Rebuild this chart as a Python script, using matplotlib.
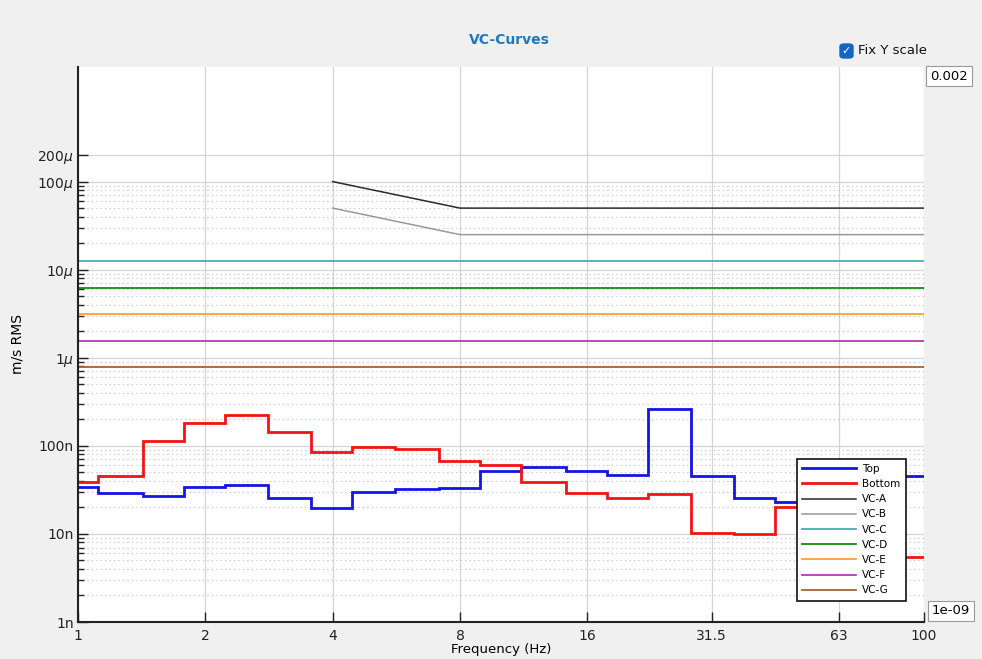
import numpy as np
import matplotlib
matplotlib.use("Agg")
import matplotlib.pyplot as plt
from matplotlib.patches import FancyBboxPatch

# 1/3 octave band centres (Hz)
freqs = [1, 1.25, 1.6, 2, 2.5, 3.15, 4, 5, 6.3, 8, 10, 12.5, 16, 20, 25,
         31.5, 40, 50, 63, 80, 100]

# m/s RMS per band
top = [34.5e-9, 29.5e-9, 27e-9, 34e-9, 35.5e-9, 25.5e-9, 19.8e-9, 30e-9,
       32.5e-9, 33e-9, 52e-9, 57e-9, 51.5e-9, 46.5e-9, 263e-9, 46e-9,
       25.5e-9, 23e-9, 30e-9, 40e-9, 46e-9]
bottom = [39e-9, 45e-9, 114e-9, 180e-9, 225e-9, 142e-9, 85e-9, 98e-9,
          91e-9, 67e-9, 60e-9, 39e-9, 29e-9, 25.7e-9, 28.5e-9, 10.3e-9,
          9.9e-9, 20.4e-9, 14e-9, 8e-9, 5.5e-9]

# VC criteria
vc_ab_freq = [4, 8, 100]
vc_a = [100e-6, 50e-6, 50e-6]
vc_b = [50e-6, 25e-6, 25e-6]
vc_flat_freq = [1, 100]
vc_flat_names = ["VC-C", "VC-D", "VC-E", "VC-F", "VC-G"]
vc_flat_levels = [12.5e-6, 6.25e-6, 3.12e-6, 1.56e-6, 0.78e-6]
vc_flat_colors = ["#3fb0b0", "#108a10", "#f2a23c", "#b03cb8", "#a0643a"]

x_ticks = [1, 2, 4, 8, 16, 31.5, 63, 100]
x_ticklabels = ["1", "2", "4", "8", "16", "31.5", "63", "100"]
y_ticks = [1e-9, 1e-8, 1e-7, 1e-6, 1e-5, 1e-4, 2e-4]
y_ticklabels = ["1n", "10n", "100n", r"1$\mu$", r"10$\mu$", r"100$\mu$", r"200$\mu$"]

fig = plt.figure(figsize=(9.82, 6.59), dpi=100, facecolor="#f0f0f0")
ax = fig.add_axes([78 / 982, 1 - 622 / 659, 846 / 982, 555 / 659])
ax.set_facecolor("white")

edges = np.array(freqs) * 2 ** (-1 / 6)
edges = np.append(edges, freqs[-1] * 2 ** (1 / 6))
ax.stairs(top, edges, color="#1414e6", lw=2, label="Top", baseline=None)
ax.stairs(bottom, edges, color="#f01414", lw=2, label="Bottom", baseline=None)

ax.plot(vc_ab_freq, vc_a, color="#2a2a2a", lw=1.1, label="VC-A")
ax.plot(vc_ab_freq, vc_b, color="#999999", lw=1.1, label="VC-B")
for name, lev, col in zip(vc_flat_names, vc_flat_levels, vc_flat_colors):
    ax.plot(vc_flat_freq, [lev, lev], color=col, lw=1.3, label=name)

ax.set_xscale("log")
ax.set_yscale("log")
ax.set_xlim(1, 100)
ax.set_ylim(1e-9, 2e-3)

ax.set_xticks(x_ticks)
ax.set_xticklabels(x_ticklabels, fontsize=10)
ax.xaxis.set_minor_locator(matplotlib.ticker.NullLocator())
ax.set_yticks(y_ticks)
ax.set_yticklabels(y_ticklabels, fontsize=10)
minor = [m * 10.0 ** k for k in range(-9, -4) for m in range(2, 10)]
ax.set_yticks(minor, minor=True)
ax.yaxis.set_minor_formatter(matplotlib.ticker.NullFormatter())

ax.tick_params(axis="x", which="major", direction="in", length=7, width=1, colors="#222222", pad=5)
ax.tick_params(axis="y", which="major", direction="in", length=7, width=1, colors="#222222", pad=3)
ax.tick_params(axis="y", which="minor", direction="in", length=4, width=1, colors="#222222")

ax.grid(True, which="major", color="#d4d4d4", lw=0.9, ls="-")
ax.grid(True, which="minor", axis="y", color="#bdbdbd", lw=0.8, ls=(0, (1, 3)))
ax.set_axisbelow(True)

for s in ["top", "right"]:
    ax.spines[s].set_visible(False)
for s in ["left", "bottom"]:
    ax.spines[s].set_color("#222222")
    ax.spines[s].set_linewidth(1.5)

ax.set_ylabel("m/s RMS", fontsize=10)
ax.yaxis.set_label_coords(-0.063, 0.5)
ax.set_xlabel("Frequency (Hz)", fontsize=9.5, labelpad=0)

leg = ax.legend(loc="lower right", bbox_to_anchor=(0.9845, 0.029), fontsize=7.5,
                handlelength=5.2, labelspacing=0.5, frameon=True, fancybox=False,
                framealpha=1, borderpad=0.5, handletextpad=0.6)
leg.get_frame().set_edgecolor("#111111")
leg.get_frame().set_linewidth(1.2)

fig.text(509 / 982, 1 - 40 / 659, "VC-Curves", ha="center", va="center",
         fontsize=10, fontweight="bold", color="#1f78c0")

# checkbox
box = FancyBboxPatch((840 / 982, 1 - 58 / 659), 13 / 982, 14 / 659,
                     boxstyle="round,pad=0,rounding_size=0.004",
                     transform=fig.transFigure, facecolor="#1565c0", edgecolor="#1565c0")
fig.patches.append(box)
fig.text(846.5 / 982, 1 - 51 / 659, "\u2713", ha="center", va="center",
         fontsize=8, color="white")
fig.text(858 / 982, 1 - 51 / 659, "Fix Y scale", ha="left", va="center", fontsize=9.5, color="#111111")

fig.text(949 / 982, 1 - 76 / 659, "0.002", ha="center", va="center", fontsize=9.5,
         bbox=dict(boxstyle="square,pad=0.3", facecolor="white", edgecolor="#9a9a9a", lw=0.8))
fig.text(951 / 982, 1 - 611 / 659, "1e-09", ha="center", va="center", fontsize=9.5,
         bbox=dict(boxstyle="square,pad=0.3", facecolor="white", edgecolor="#9a9a9a", lw=0.8))

fig.savefig("out.png", dpi=100, facecolor=fig.get_facecolor())
